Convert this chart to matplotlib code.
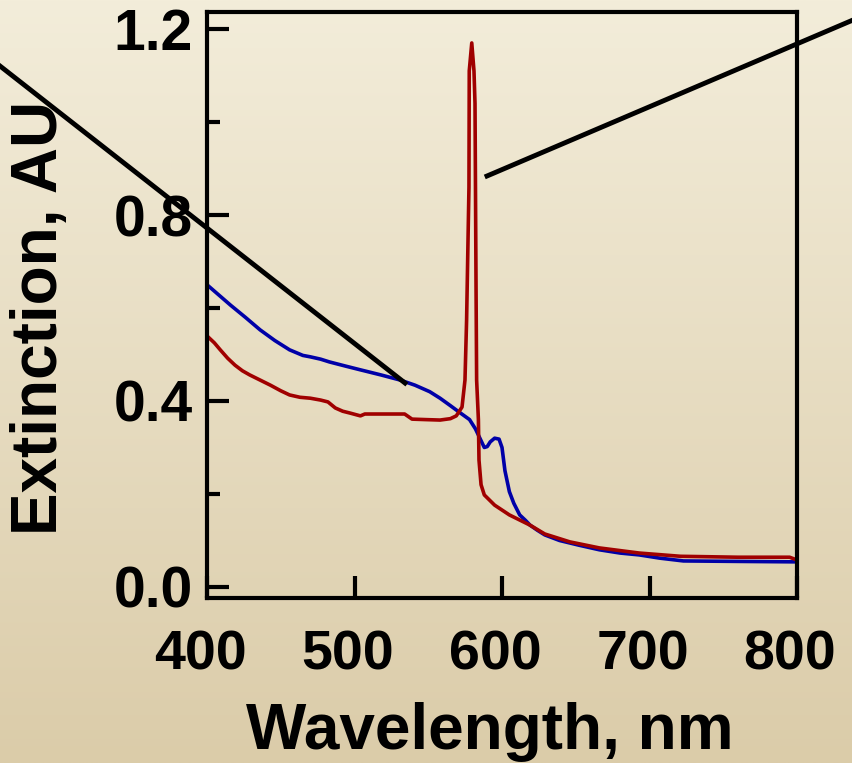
import numpy as np
import matplotlib
matplotlib.use("Agg")
import matplotlib.pyplot as plt
import matplotlib.transforms as mtrans
from matplotlib.lines import Line2D

# spectra (wavelength nm, extinction AU)
blue_wl = [400, 408, 416, 426, 436, 446, 456, 465, 470, 477, 483, 494, 504, 518, 531, 541,
           551, 558, 565, 571, 578, 582, 585, 588, 590, 592, 595, 598, 600, 602, 605, 608,
           612, 616, 619, 624, 629, 639, 652, 666, 680, 693, 707, 723, 760, 800]
blue_ext = [0.650, 0.628, 0.606, 0.580, 0.553, 0.530, 0.510, 0.498, 0.495, 0.490, 0.484, 0.475,
            0.467, 0.456, 0.445, 0.434, 0.420, 0.406, 0.390, 0.376, 0.360, 0.340, 0.320, 0.300,
            0.302, 0.312, 0.320, 0.318, 0.300, 0.250, 0.205, 0.180, 0.155, 0.143, 0.133, 0.122,
            0.112, 0.100, 0.090, 0.080, 0.073, 0.069, 0.062, 0.056, 0.055, 0.054]

red_wl = [400, 405, 409, 414, 419, 424, 429, 436, 443, 450, 456, 463, 470, 477, 482, 487,
          492, 497, 504, 507, 520, 534, 539, 548, 558, 565, 569, 572.9, 574.9, 576.0, 577.6,
          577.8, 579.5, 581.0, 581.7, 582.4, 582.8, 584.0, 584.4, 585.8, 588, 595, 605, 619,
          629, 646, 666, 693, 721, 760, 795, 800]
red_ext = [0.540, 0.525, 0.510, 0.492, 0.477, 0.465, 0.456, 0.445, 0.434, 0.422, 0.413, 0.408,
           0.406, 0.402, 0.398, 0.385, 0.378, 0.374, 0.368, 0.372, 0.372, 0.372, 0.361, 0.360,
           0.359, 0.362, 0.368, 0.387, 0.445, 0.574, 0.860, 1.110, 1.170, 1.110, 1.040, 0.645,
           0.445, 0.360, 0.273, 0.220, 0.198, 0.176, 0.155, 0.133, 0.114, 0.097, 0.084, 0.073,
           0.066, 0.064, 0.064, 0.058]

xticks = [400, 500, 600, 700, 800]
yticks = [0.0, 0.4, 0.8, 1.2]
yminor = [0.2, 0.6, 1.0]

W, H = 853, 763
plt.rcParams['font.family'] = ['Liberation Sans', 'DejaVu Sans']
plt.rcParams['font.weight'] = 'bold'

fig = plt.figure(figsize=(W / 100, H / 100), dpi=100)

# cream -> tan background gradient
bg = fig.add_axes([0, 0, 1, 1], zorder=-10)
top = np.array([243, 237, 218]) / 255.0
bot = np.array([219, 204, 169]) / 255.0
t = np.linspace(0, 1, 256)[:, None, None]
grad = top * (1 - t) + bot * t
grad = np.repeat(grad, 2, axis=1)
bg.imshow(grad, aspect='auto', extent=[0, 1, 0, 1])
bg.axis('off')

ax = fig.add_axes([207 / W, 1 - 598 / H, 590 / W, 586 / H])
ax.patch.set_alpha(0)
ax.plot(blue_wl, blue_ext, color='#0000a8', lw=2.6, solid_joinstyle='round')
ax.plot(red_wl, red_ext, color='#a00000', lw=2.6, solid_joinstyle='round')

ax.set_xlim(400, 800)
ax.set_ylim(-0.0237, 1.2366)
ax.set_xticks(xticks)
ax.set_xticklabels([str(v) for v in xticks], fontsize=40)
ax.set_yticks(yticks)
ax.set_yticklabels(['%.1f' % v for v in yticks], fontsize=41)
ax.set_yticks(yminor, minor=True)
for s in ax.spines.values():
    s.set_linewidth(3)
ax.tick_params(axis='both', which='major', direction='in', length=16, width=3)
ax.tick_params(axis='x', which='major', pad=23)
ax.tick_params(axis='y', which='major', pad=10)
ax.tick_params(axis='y', which='minor', direction='in', length=9, width=3)
ax.tick_params(axis='x', which='minor', bottom=False)

# x tick labels sit a little left of their ticks in the original
shift = mtrans.ScaledTranslation(-7 / 100, 0, fig.dpi_scale_trans)
for lab in ax.get_xticklabels():
    lab.set_transform(lab.get_transform() + shift)

fig.text(490 / W, 1 - 732 / H, 'Wavelength, nm', ha='center', va='center',
         fontsize=46, fontweight='bold')
fig.text(40 / W, 1 - 318 / H, 'Extinction, AU', ha='center', va='center',
         rotation=90, fontsize=46, fontweight='bold')

# pointer lines
fig.add_artist(Line2D([0 / W, 405 / W], [1 - 66 / H, 1 - 383 / H], color='black',
                      lw=3.5, zorder=20))
fig.add_artist(Line2D([487 / W, 853 / W], [1 - 176 / H, 1 - 20 / H], color='black',
                      lw=3.5, zorder=20))

fig.savefig('out.png', dpi=100)
